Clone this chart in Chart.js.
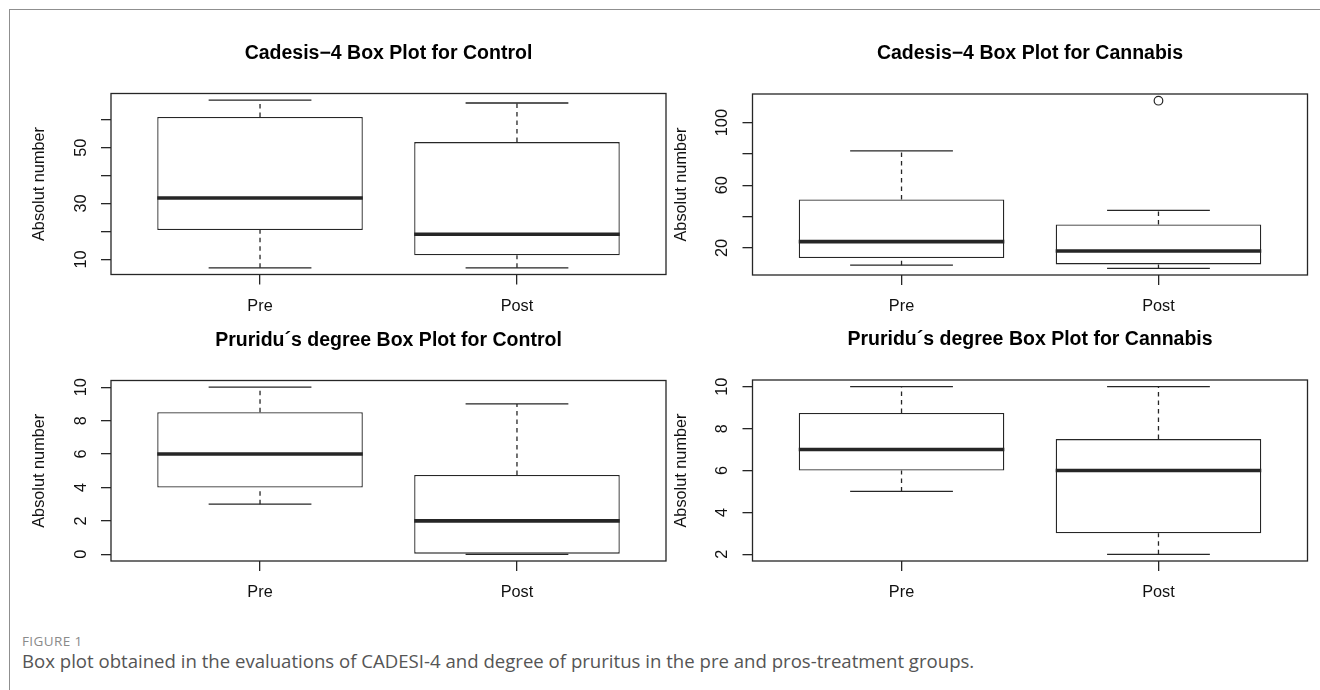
<!DOCTYPE html>
<html lang="en">
<head>
<meta charset="utf-8">
<title>Figure 1 - box plots</title>
<script src="https://cdn.jsdelivr.net/npm/chart.js@4.4.1/dist/chart.umd.min.js"></script>
<style>
  html, body { margin: 0; padding: 0; background: #fff; }
  body { position: relative; width: 1320px; height: 690px; overflow: hidden; }
  #frame { position: absolute; left: 9px; top: 9px; width: 1400px; height: 800px; border: 1.5px solid #8f8f8f; box-sizing: border-box; }
  canvas { position: absolute; }
  .figlabel { position: absolute; left: 22px; top: 633px; font: 13.5px/17px "Open Sans", sans-serif; color: #8a8a8a; letter-spacing: 0.4px; }
  .caption { position: absolute; left: 22px; top: 650px; font: 18.6px/22px "Open Sans", sans-serif; color: #555; white-space: nowrap; }
</style>
</head>
<body>
<div id="frame"></div>
<canvas id="cadControl"></canvas>
<canvas id="cadCannabis"></canvas>
<canvas id="pruControl"></canvas>
<canvas id="pruCannabis"></canvas>
<div class="figlabel">FIGURE 1</div>
<div class="caption">Box plot obtained in the evaluations of CADESI-4 and degree of pruritus in the pre and pros-treatment groups.</div>
<script>
(function() {
  'use strict';

  // groups on the x axis
  const groups = ['Pre', 'Post'];

  // box stats per group: [lower whisker, Q1, median, Q3, upper whisker]
  const cadControlPre = [7, 20.5, 32, 61, 67];
  const cadControlPost = [7, 11.5, 19, 52, 66];
  const cadCannabisPre = [9, 13.5, 24, 51, 82];
  const cadCannabisPost = [7, 9.5, 18, 35, 44];
  const pruControlPre = [3, 4, 6, 8.5, 10];
  const pruControlPost = [0, 0, 2, 4.75, 9];
  const pruCannabisPre = [5, 6, 7, 8.75, 10];
  const pruCannabisPost = [2, 3, 6, 7.5, 10];

  // points beyond the whiskers, [Pre, Post]
  const cadCannabisOutliers = [[], [114]];
  const noOutliers = [[], []];

  // y tick marks, and the ones that got a label
  const cadControlTicks = [10, 20, 30, 40, 50, 60];
  const cadControlLabels = [10, 30, 50];
  const cadCannabisTicks = [20, 40, 60, 80, 100];
  const cadCannabisLabels = [20, 60, 100];
  const pruControlTicks = [0, 2, 4, 6, 8, 10];
  const pruCannabisTicks = [2, 4, 6, 8, 10];

  const yTitle = 'Absolut number';

  // look
  const FONT = '"Liberation Sans", Arial, Helvetica, sans-serif';
  const INK = '#262626';
  const TEXT = '#111';
  const LW = 1.3;
  const TICK_SIZE = 16.3;
  const TITLE_SIZE = 19.5;
  const BOX_W = 0.8;   // box width in group units
  const CAP_W = 0.4;   // whisker cap width
  const Y_AXIS_W = 82;
  const X_AXIS_H = 40;
  const TICK_LEN = 10;

  Chart.defaults.font.family = FONT;
  Chart.defaults.color = TEXT;

  // canvas = [left, top, w, h] on the page, box = plot frame [left, top, right, bottom]
  const panels = [
    { id: 'cadControl', title: 'Cadesis\u22124 Box Plot for Control',
      stats: [cadControlPre, cadControlPost], outliers: noOutliers,
      ticks: cadControlTicks, labels: cadControlLabels,
      canvas: [10, 12, 670, 306], box: [111, 93.5, 666, 274.5], titleY: 53.5 },
    { id: 'cadCannabis', title: 'Cadesis\u22124 Box Plot for Cannabis',
      stats: [cadCannabisPre, cadCannabisPost], outliers: cadCannabisOutliers,
      ticks: cadCannabisTicks, labels: cadCannabisLabels,
      canvas: [660, 12, 660, 306], box: [752.5, 94, 1307.5, 275], titleY: 53.8 },
    { id: 'pruControl', title: 'Pruridu\u00b4s degree Box Plot for Control',
      stats: [pruControlPre, pruControlPost], outliers: noOutliers,
      ticks: pruControlTicks, labels: pruControlTicks,
      canvas: [10, 318, 670, 292], box: [111, 380.5, 666, 561], titleY: 340.5 },
    { id: 'pruCannabis', title: 'Pruridu\u00b4s degree Box Plot for Cannabis',
      stats: [pruCannabisPre, pruCannabisPost], outliers: noOutliers,
      ticks: pruCannabisTicks, labels: pruCannabisTicks,
      canvas: [660, 318, 660, 292], box: [752.5, 380, 1307.5, 561], titleY: 340 }
  ];

  const measureCtx = document.createElement('canvas').getContext('2d');
  function textWidth(str, size) {
    measureCtx.font = size + 'px ' + FONT;
    return measureCtx.measureText(str).width;
  }

  // several short pieces as one line dataset, null y breaks the line
  function segments(pieces) {
    const pts = [];
    pieces.forEach((s, i) => {
      if (i > 0) pts.push({ x: s[0], y: null });
      pts.push({ x: s[0], y: s[1] }, { x: s[2], y: s[3] });
    });
    return pts;
  }

  function lineSet(data, width, dash) {
    return {
      type: 'line', data: data, borderColor: INK, borderWidth: width, borderDash: dash || [],
      pointRadius: 0, pointHoverRadius: 0, spanGaps: false, fill: false, tension: 0, order: 1
    };
  }

  // the closed box round the plot region
  const plotFrame = {
    id: 'plotFrame',
    afterDatasetsDraw(chart) {
      const a = chart.chartArea;
      const ctx = chart.ctx;
      ctx.save();
      ctx.strokeStyle = INK;
      ctx.lineWidth = LW;
      ctx.strokeRect(a.left, a.top, a.right - a.left, a.bottom - a.top);
      ctx.restore();
    }
  };

  function drawPanel(p) {
    const cv = document.getElementById(p.id);
    const [cx, cy, cw, ch] = p.canvas;
    const [bl, bt, br, bb] = p.box;
    cv.width = cw;
    cv.height = ch;
    cv.style.left = cx + 'px';
    cv.style.top = cy + 'px';

    // R widens both ranges by 4%
    const values = p.stats.flat().concat(p.outliers.flat());
    const lo = Math.min(...values);
    const hi = Math.max(...values);
    const yPad = (hi - lo) * 0.04;
    const xPad = groups.length * 0.04;

    const titleLH = TITLE_SIZE * 1.2;
    const axisLH = TICK_SIZE * 1.2;
    const widest = Math.max(...p.labels.map(v => textWidth(String(v), TICK_SIZE)));

    const boxes = p.stats.map((s, i) => ({ x: i + 1, y: [s[1], s[3]] }));
    const medians = segments(p.stats.map((s, i) => [i + 1 - BOX_W / 2, s[2], i + 1 + BOX_W / 2, s[2]]));
    const whiskers = segments(p.stats.flatMap((s, i) => [
      [i + 1, s[3], i + 1, s[4]],
      [i + 1, s[0], i + 1, s[1]]
    ]));
    const caps = segments(p.stats.flatMap((s, i) => [
      [i + 1 - CAP_W / 2, s[4], i + 1 + CAP_W / 2, s[4]],
      [i + 1 - CAP_W / 2, s[0], i + 1 + CAP_W / 2, s[0]]
    ]));
    const outliers = p.outliers.flatMap((list, i) => list.map(v => ({ x: i + 1, y: v })));

    new Chart(cv, {
      type: 'bar',
      data: {
        datasets: [
          { type: 'bar', data: boxes, backgroundColor: '#fff', borderColor: INK, borderWidth: LW,
            borderSkipped: false, barPercentage: BOX_W, categoryPercentage: 1, order: 3 },
          lineSet(whiskers, LW, [4.5, 4]),
          lineSet(caps, LW),
          lineSet(medians, 3.6),
          { type: 'line', data: outliers, showLine: false, pointStyle: 'circle', pointRadius: 4.3,
            pointBorderWidth: 1.2, pointBackgroundColor: 'rgba(255,255,255,0)', pointBorderColor: INK, order: 0 }
        ]
      },
      options: {
        responsive: false,
        animation: false,
        events: [],
        layout: {
          autoPadding: false,
          padding: { left: bl - Y_AXIS_W - cx, right: cx + cw - br, top: 0, bottom: cy + ch - bb - X_AXIS_H }
        },
        plugins: {
          legend: { display: false },
          tooltip: { enabled: false },
          title: {
            display: true, text: p.title, fullSize: false, color: '#000',
            font: { size: TITLE_SIZE, weight: 'bold' },
            padding: { top: p.titleY - cy - titleLH / 2, bottom: bt - p.titleY - titleLH / 2 }
          }
        },
        scales: {
          x: {
            type: 'linear', bounds: 'data', offset: false,
            min: 0.5 - xPad, max: groups.length + 0.5 + xPad,
            afterBuildTicks: s => { s.ticks = groups.map((g, i) => ({ value: i + 1 })); },
            afterFit: s => { s.height = X_AXIS_H; },
            border: { display: false },
            grid: { offset: false, drawOnChartArea: false, drawTicks: true, tickLength: TICK_LEN, color: INK, lineWidth: LW },
            ticks: { autoSkip: false, maxRotation: 0, padding: 11.8, color: TEXT, font: { size: TICK_SIZE },
                     callback: v => groups[v - 1] }
          },
          y: {
            type: 'linear', bounds: 'data', beginAtZero: false,
            min: lo - yPad, max: hi + yPad,
            afterBuildTicks: s => { s.ticks = p.ticks.map(v => ({ value: v })); },
            afterFit: s => { s.width = Y_AXIS_W; },
            border: { display: false },
            grid: { drawOnChartArea: false, drawTicks: true, tickLength: TICK_LEN, color: INK, lineWidth: LW },
            ticks: { autoSkip: false, minRotation: 90, maxRotation: 90, crossAlign: 'center',
                     padding: 29.5 - TICK_LEN - widest / 2, color: TEXT, font: { size: TICK_SIZE },
                     callback: v => p.labels.includes(v) ? String(v) : '' },
            title: { display: true, text: yTitle, color: TEXT, font: { size: TICK_SIZE },
                     padding: { top: Y_AXIS_W - 71 - axisLH / 2, bottom: 0 } }
          }
        }
      },
      plugins: [plotFrame]
    });
  }

  panels.forEach(drawPanel);
})();
</script>
</body>
</html>
